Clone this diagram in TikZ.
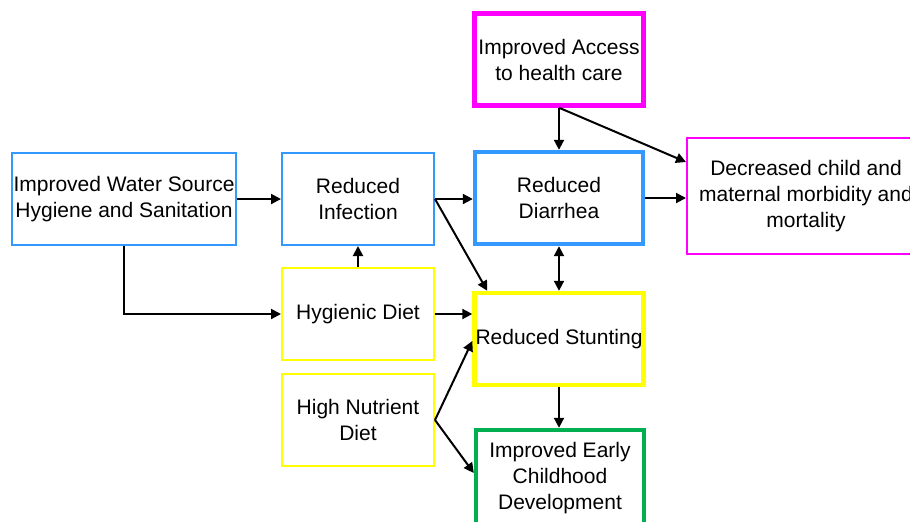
\documentclass[tikz,border=0pt]{standalone}
\usepackage{fontspec}
\setmainfont{Liberation Sans}
\usetikzlibrary{arrows.meta,calc}
\definecolor{cblue}{RGB}{51,153,255}
\definecolor{cmag}{RGB}{255,0,255}
\definecolor{cyel}{RGB}{255,255,0}
\definecolor{cgreen}{RGB}{0,176,80}
\begin{document}
\begin{tikzpicture}[x=0.5pt,y=-0.5pt,
  box/.style={draw, rectangle, align=center, inner sep=0pt,
    font=\fontsize{10.5}{13}\selectfont},
  thinbox/.style={box, line width=1pt},
  thickbox/.style={box, line width=2.2pt},
  conn/.style={line width=1pt, -{Triangle[length=5pt,width=5pt]}},
  dconn/.style={line width=1pt, {Triangle[length=5pt,width=5pt]}-{Triangle[length=5pt,width=5pt]}}]
\clip (0,0) rectangle (910,521);
\fill[white] (0,0) rectangle (910,521);
\node[thinbox, draw=cblue, minimum width=112pt, minimum height=46pt] (water) at (124,199) {Improved Water Source\\Hygiene and Sanitation};
\node[thinbox, draw=cblue, minimum width=76pt, minimum height=46pt] (infect) at (358,199) {Reduced\\Infection};
\node[thinbox, draw=cyel, minimum width=76pt, minimum height=46pt] (hyg) at (358,314) {Hygienic Diet};
\node[thinbox, draw=cyel, minimum width=76pt, minimum height=46pt] (nutr) at (358,420) {High Nutrient\\Diet};
\node[thickbox, draw=cmag, minimum width=84.5pt, minimum height=46pt] (access) at (559,59.5) {Improved Access\\to health care};
\node[thickbox, draw=cblue, minimum width=84pt, minimum height=46pt] (diarr) at (559,198) {Reduced\\Diarrhea};
\node[thickbox, draw=cyel, minimum width=84.5pt, minimum height=46pt] (stunt) at (559,339) {Reduced Stunting};
\node[thickbox, draw=cgreen, minimum width=84pt, minimum height=48pt] (ecd) at (560,478) {Improved Early\\Childhood\\Development};
\node[thinbox, draw=cmag, minimum width=119pt, minimum height=58pt] (decr) at (806,196) {Decreased child and\\maternal morbidity and\\mortality};
% connectors
\draw[conn] (water.east) -- (water.east -| infect.west);
\draw[conn] (water.south) |- (hyg.west);
\draw[conn] (hyg.north) -- (infect.south);
\draw[conn] (infect.east) -- (infect.east -| diarr.west);
\draw[conn] (infect.east) -- ($(stunt.north west)+(15,0)$);
\draw[conn] (hyg.east) -- (hyg.east -| stunt.west);
\draw[conn] (nutr.east) -- ($(stunt.west)+(0,2)$);
\draw[conn] (nutr.east) -- ($(ecd.west)+(0,-5)$);
\draw[dconn] (diarr.south) -- (stunt.north);
\draw[conn] (stunt.south) -- (stunt.south |- ecd.north);
\draw[conn] (access.south) -- (diarr.north);
\draw[conn] (access.south) -- ($(decr.north west)+(0,25)$);
\draw[conn] (diarr.east) -- (diarr.east -| decr.west);
\end{tikzpicture}
\end{document}
